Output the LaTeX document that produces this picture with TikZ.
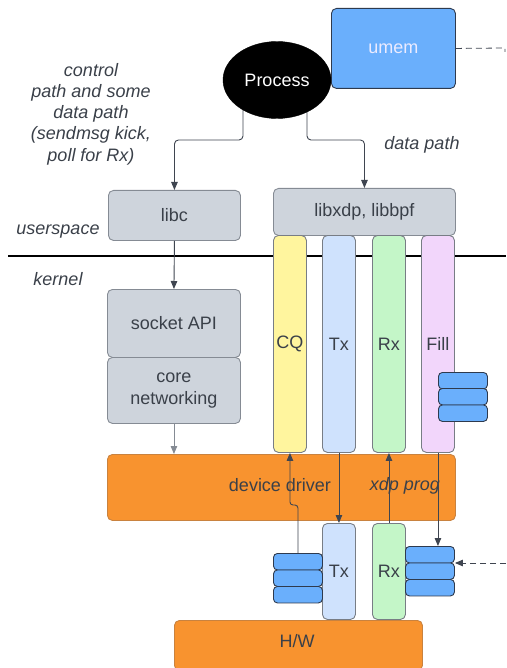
\documentclass[tikz,border=0pt]{standalone}
\usepackage{fontspec}
\setmainfont{Liberation Sans}
\usetikzlibrary{arrows.meta,calc,shapes.geometric}

\definecolor{boxgray}{HTML}{CED4DC}
\definecolor{boxedge}{HTML}{858B94}
\definecolor{drvorange}{HTML}{F8932F}
\definecolor{drvedge}{HTML}{C9823F}
\definecolor{bufblue}{HTML}{6AAFFC}
\definecolor{bufedge}{HTML}{2E3A4E}
\definecolor{cqyellow}{HTML}{FFF59E}
\definecolor{txblue}{HTML}{CFE2FD}
\definecolor{rxgreen}{HTML}{C4F6C8}
\definecolor{fillpurple}{HTML}{F2D6FB}
\definecolor{txtdark}{HTML}{3A4049}
\definecolor{linedark}{HTML}{3F4550}

\begin{document}
\begin{tikzpicture}[x=1pt,y=-1pt,
  font=\fontsize{18}{21.5}\selectfont,
  box/.style={draw=boxedge, line width=0.9pt, rounded corners=5pt, inner sep=0pt,
    anchor=north west, text=txtdark, align=center},
  ring/.style={box, draw=boxedge!90!black},
  buf/.style={draw=bufedge, fill=bufblue, line width=0.9pt, rounded corners=4pt,
    inner sep=0pt, anchor=north west, minimum width=49pt, minimum height=16.5pt},
  note/.style={font=\fontsize{18}{21.3}\selectfont\itshape, text=txtdark, align=center},
  arr/.style={draw=linedark, line width=0.9pt, -{Triangle[width=6.5pt,length=8pt]}},
]
\useasboundingbox (0,0) rectangle (506,668);

% user/kernel boundary
\draw[line width=1.3pt] (8,256) -- (506,256);

% userspace blocks
\node[box, fill=bufblue, draw=bufedge, text=white!92!blue, minimum width=124pt, minimum height=80pt] (umem) at (331,8) {umem};
\node[box, fill=boxgray, minimum width=132pt, minimum height=50pt] (libc) at (108,190) {libc};
\node[box, fill=boxgray, minimum width=182pt, minimum height=47pt] (libxdp) at (273,188) {libxdp, libbpf};

% kernel stack
\node[box, fill=boxgray, minimum width=133pt, minimum height=68pt] (sock) at (107,289) {socket API};
\node[box, fill=boxgray, minimum width=133pt, minimum height=66pt] (core) at (107,357) {core\\networking};
\node[box, fill=drvorange, draw=drvedge, minimum width=348pt, minimum height=66pt] (dev) at (107,454) {};
\node[text=txtdark] (devlbl) at (280,485) {device driver};
\node[note] (xdplbl) at (405,486) {xdp prog};
\node[box, fill=drvorange, draw=drvedge, minimum width=248pt, minimum height=50pt] (hw) at (174,620) {};
\node[text=txtdark] (hwlbl) at (297,641) {H/W};

% shared rings
\node[ring, fill=cqyellow, minimum width=33pt, minimum height=217pt] (cq) at (273,235) {CQ};
\node[ring, fill=txblue, minimum width=33pt, minimum height=217pt] (tx) at (322,235) {Tx};
\node[ring, fill=rxgreen, minimum width=33pt, minimum height=217pt] (rx) at (372,235) {Rx};
\node[ring, fill=fillpurple, minimum width=33pt, minimum height=217pt] (fill) at (421,235) {Fill};

% hardware rings
\node[ring, fill=txblue, minimum width=33pt, minimum height=96pt] (txl) at (322,523) {Tx};
\node[ring, fill=rxgreen, minimum width=33pt, minimum height=96pt] (rxl) at (372,523) {Rx};

% buffer stacks
\node[buf] (fbuf1) at (438,372) {};
\node[buf] (fbuf2) at (438,388) {};
\node[buf] (fbuf3) at (438,404.5) {};
\node[buf] (lbuf1) at (273,553) {};
\node[buf] (lbuf2) at (273,569.5) {};
\node[buf] (lbuf3) at (273,586) {};
\node[buf] (rbuf1) at (405,546) {};
\node[buf] (rbuf2) at (405,562.5) {};
\node[buf] (rbuf3) at (405,579) {};

% process and its paths down
\draw[arr, rounded corners=4pt] ([xshift=-34pt]277,80) |- ($(libc.north)+(0,-50)$) -- (libc.north);
\draw[arr, rounded corners=4pt] ([xshift=30pt]277,80) |- ($(libxdp.north)+(0,-48)$) -- (libxdp.north);
\node[ellipse, fill=black, draw=black, minimum width=108pt, minimum height=77pt, text=white] (proc) at (277,80) {Process};

\draw[arr] (libc.south) -- (sock.north);
\draw[arr, draw=boxedge] (core.south) -- (core.south |- dev.north);

% ring traffic through the driver
\draw[arr, rounded corners=3pt] (lbuf1.north) -- ++(0,-48) -| (cq.south);
\draw[arr] (tx.south) -- (txl.north);
\draw[arr] (rxl.north) -- (rx.south);
\draw[arr] (fill.south) -- (fill.south |- rbuf1.north);

% links leaving the frame
\coordinate (rin) at (506,563);
\draw[arr, dashed, dash pattern=on 6pt off 4pt] (rin) -- (rin -| rbuf2.east);
\coordinate (uout) at (505,48);
\draw[draw=linedark, line width=0.8pt, dashed, dash pattern=on 6pt off 4pt] (umem.east) -- (uout) -- ++(0,4);

% labels
\node[note] (ctl) at (91,114) {control\\path and some\\data path\\(sendmsg kick,\\poll for Rx)};
\node[note] (dpath) at (422,145) {data path};
\node[note] (us) at (58,232) {userspace};
\node[note] (kern) at (58,279) {kernel};
\end{tikzpicture}
\end{document}
